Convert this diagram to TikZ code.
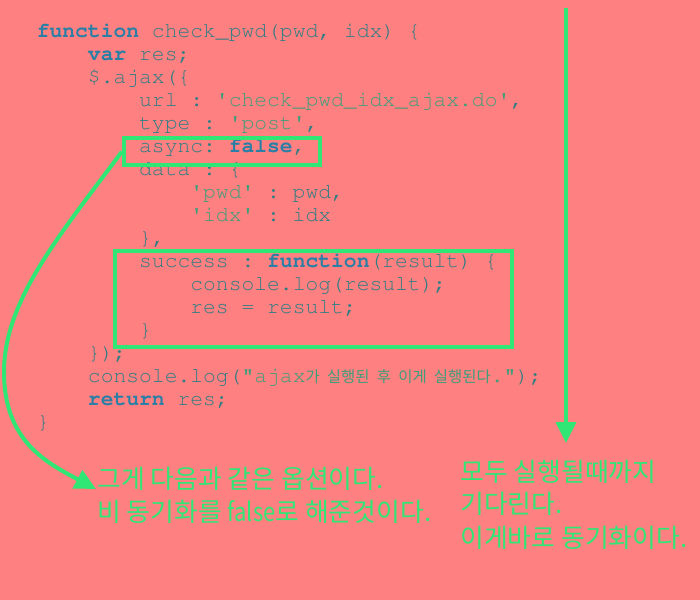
\documentclass[tikz,border=0pt]{standalone}
\usepackage[T1]{fontenc}
\usepackage{fontspec}
\newfontfamily\kr{Noto Sans CJK KR}
\usetikzlibrary{arrows.meta}
\definecolor{bg}{HTML}{FF8080}
\definecolor{grn}{HTML}{30E675}
\definecolor{codec}{HTML}{2E7E84}
\definecolor{kwc}{HTML}{2A7FA6}
\definecolor{strc}{HTML}{3E9E7A}
\newcommand\crr{\fontencoding{T1}\fontfamily{pcr}\selectfont\frenchspacing}
\newcommand\ckw[1]{{\bfseries\color{kwc}#1}}
\newcommand\cstr[1]{{\color{strc}#1}}
\newcommand\ksm[1]{{\kr\fontsize{11.6}{14}\selectfont #1}}
\newcommand\ksp{\hspace{5.4pt}}
\newcommand\q{\textquotesingle}
\begin{document}
\begin{tikzpicture}[x=0.75pt,y=-0.75pt,
  code/.style={anchor=base west, inner sep=0pt, font=\fontsize{16}{20}\crr, text=codec},
  note/.style={anchor=base west, inner sep=0pt, font=\kr\fontsize{19.4}{24}\selectfont, text=grn},
  hl/.style={draw=grn, line width=3pt, inner sep=0pt, anchor=north west},
  conn/.style={draw=grn, line width=3pt, -{Triangle[length=15.75pt,width=15pt]}}]
\fill[bg] (0,0) rectangle (700,600);
\useasboundingbox (0,0) rectangle (700,600);
% code lines
\node[code] (l1) at (36.5,37) {\ckw{function} check\_pwd(pwd, idx) \{};
\node[code] (l2) at (87.7,60) {\ckw{var} res;};
\node[code] (l3) at (87.7,83) {\$.ajax(\{};
\node[code] (l4) at (138.9,106) {url : \cstr{\q check\_pwd\_idx\_ajax.do\q},};
\node[code] (l5) at (138.9,129) {type : \cstr{\q post\q},};
\node[code] (l6) at (138.9,152) {async: \ckw{false},};
\node[code] (l7) at (138.9,175) {data : \{};
\node[code] (l8) at (190.1,198) {\cstr{\q pwd\q} : pwd,};
\node[code] (l9) at (190.1,221) {\cstr{\q idx\q} : idx};
\node[code] (l10) at (138.9,244) {\},};
\node[code] (l11) at (138.9,267) {success : \ckw{function}(result) \{};
\node[code] (l12) at (190.1,290) {console.log(result);};
\node[code] (l13) at (190.1,313) {res = result;};
\node[code] (l14) at (138.9,336) {\}};
\node[code] (l15) at (87.7,359) {\});};
\node[code] (l16) at (87.7,382) {console.log(\cstr{"ajax\ksm{가}\ksp\ksm{실행된}\ksp\ksm{후}\ksp\ksm{이게}\ksp\ksm{실행된다}."});};
\node[code] (l17) at (87.7,405) {\ckw{return} res;};
\node[code] (l18) at (36.5,428) {\}};
% highlight boxes
\node[hl, minimum width=147pt, minimum height=20.25pt] (abox) at (122,136) {};
\node[hl, minimum width=297.75pt, minimum height=72pt] (sbox) at (113,249) {};
% notes
\node[note] (n1) at (97,488) {그게 다음과 같은 옵션이다.};
\node[note] (n2) at (97,521) {비 동기화를 \scalebox{0.85}[1]{false}로 해준것이다.};
\node[note] (n3) at (460,481) {모두 실행될때까지};
\node[note] (n4) at (460,513) {기다린다.};
\node[note] (n5) at (460,547) {이게바로 동기화이다.};
% connectors
\coordinate (tipL) at (96,489);
\coordinate (top) at (566,8);
\coordinate (bot) at (566,443);
\draw[conn] (abox.west) .. controls (60,235) and (4,300) .. (4,372)
  .. controls (4,440) and (45,462) .. (tipL);
\draw[conn] (top) -- (bot);
\end{tikzpicture}
\end{document}
